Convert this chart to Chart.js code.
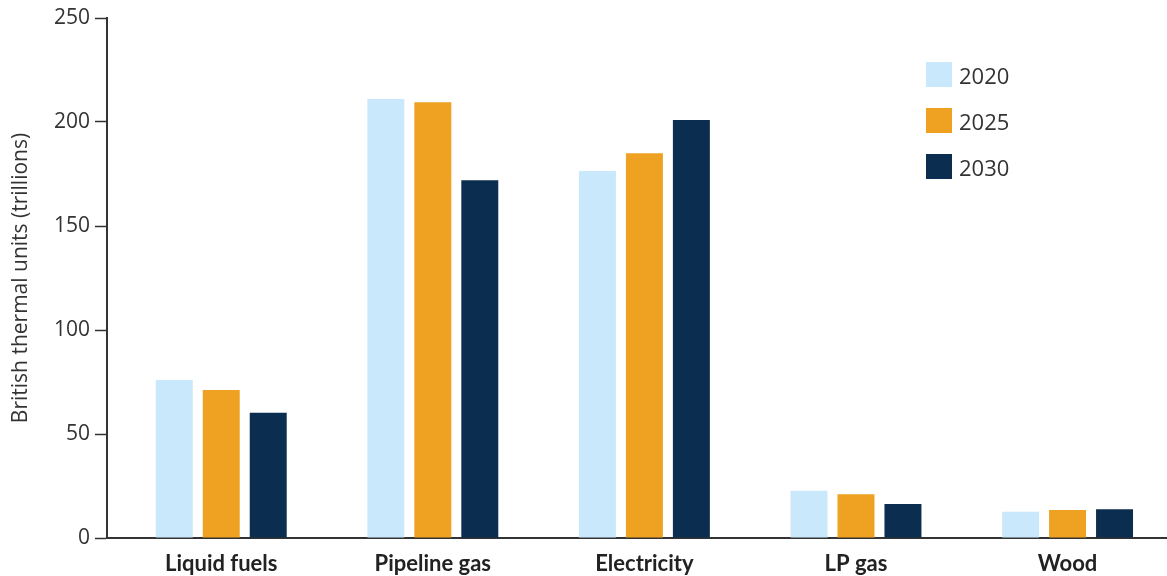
<!DOCTYPE html>
<html>
<head>
<meta charset="utf-8">
<script src="https://cdn.jsdelivr.net/npm/chart.js@4.4.1/dist/chart.umd.min.js"></script>
<style>
  body { margin: 0; background: #fff; }
  #wrap { position: relative; width: 1167px; height: 576px; }
  #legend { position: absolute; left: 926px; top: 62px; font-family: 'Open Sans', sans-serif; font-size: 22px; color: #333; }
  .item { display: flex; align-items: center; height: 25px; margin-bottom: 21px; }
  .sw { width: 26px; height: 25px; margin-right: 7px; }
</style>
</head>
<body>
<div id="wrap">
  <canvas id="chart1" width="1167" height="576"></canvas>
  <div id="legend"></div>
</div>
<script>
  // values
  const categories = ['Liquid fuels', 'Pipeline gas', 'Electricity', 'LP gas', 'Wood'];
  const years = ['2020', '2025', '2030'];
  const v2020 = [76, 211, 176.5, 22.7, 12.6];
  const v2025 = [71.2, 209.5, 185, 21, 13.5];
  const v2030 = [60.2, 172, 201, 16.3, 13.8];
  const yTicks = [0, 50, 100, 150, 200, 250];
  const colors = ['#c9e8fb', '#efa222', '#0b2d4f'];

  const series = [v2020, v2025, v2030];
  const toPoints = arr => arr.map((v, i) => ({ x: i, y: v }));

  const ctx1 = document.getElementById('chart1').getContext('2d');

  const data = {
    datasets: series.map((s, k) => ({
      label: years[k],
      data: toPoints(s),
      backgroundColor: colors[k],
      borderWidth: 0,
      categoryPercentage: 0.666,
      barPercentage: 0.787
    }))
  };

  const options = {
    responsive: false,
    animation: false,
    layout: { padding: { top: 18, right: 0, left: 0, bottom: 0 } },
    plugins: { legend: { display: false }, tooltip: { enabled: false } },
    scales: {
      x: {
        type: 'linear',
        offset: false,
        min: -0.54,
        max: 4.47,
        grid: { display: false, drawTicks: false, offset: false },
        border: { display: true, color: '#333', width: 2 },
        ticks: {
          stepSize: 1,
          autoSkip: false,
          maxRotation: 0,
          padding: 13,
          color: '#222',
          font: { family: 'Lato', size: 22, weight: 'bold' },
          callback: v => Number.isInteger(v) ? (categories[v] || '') : ''
        },
        // keep only the category positions as ticks
        afterBuildTicks: s => { s.ticks = s.ticks.filter(t => Number.isInteger(t.value)); },
        afterFit: s => { s.height = 38; }
      },
      y: {
        min: yTicks[0],
        max: yTicks[yTicks.length - 1],
        grid: { display: true, drawOnChartArea: false, tickLength: 12, tickColor: '#333', tickWidth: 1.5 },
        border: { display: true, color: '#333', width: 2 },
        ticks: {
          stepSize: 50,
          padding: 5,
          color: '#333',
          font: { family: 'Open Sans', size: 21 }
        },
        title: {
          display: true,
          text: 'British thermal units (trillions)',
          color: '#333',
          padding: { top: 8, bottom: 0 },
          font: { family: 'Open Sans', size: 21 }
        },
        afterFit: s => { s.width = 107; }
      }
    }
  };

  new Chart(ctx1, { type: 'bar', data: data, options: options });

  // legend built from the same series names / colours
  const legend = document.getElementById('legend');
  years.forEach((y, k) => {
    const item = document.createElement('div');
    item.className = 'item';
    item.innerHTML = '<span class="sw" style="background:' + colors[k] + '"></span><span>' + y + '</span>';
    legend.appendChild(item);
  });
</script>
</body>
</html>
